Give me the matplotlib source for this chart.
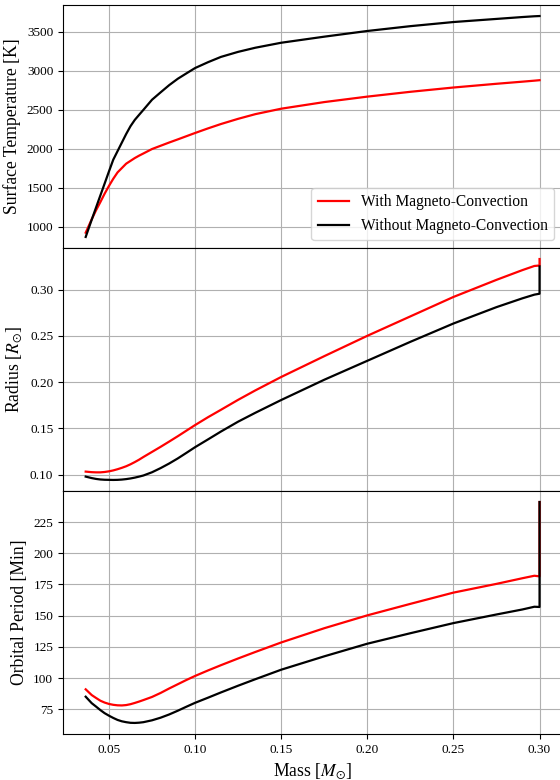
import matplotlib
matplotlib.use("Agg")
import matplotlib.pyplot as plt

plt.rcParams['font.family'] = 'serif'
plt.rcParams['font.serif'] = ['Liberation Serif', 'DejaVu Serif']
plt.rcParams['mathtext.fontset'] = 'stix'

# donor mass [Msun]; the last point is the start of the track (jump at 0.30)
mass = [0.0365, 0.040, 0.0425, 0.045, 0.0475, 0.050, 0.0525, 0.055, 0.0575, 0.060,
        0.0625, 0.065, 0.0675, 0.070, 0.075, 0.080, 0.085, 0.090, 0.095, 0.100,
        0.1075, 0.115, 0.125, 0.135, 0.150, 0.175, 0.200, 0.225, 0.250, 0.275,
        0.290, 0.297, 0.300, 0.300]

# surface temperature [K]
teff_mc = [923, 1095, 1210, 1315, 1424, 1523, 1615, 1697, 1753, 1809,
           1845, 1881, 1912, 1940, 1997, 2039, 2081, 2121, 2162, 2203,
           2262, 2318, 2385, 2445, 2515, 2600, 2670, 2732, 2787, 2835,
           2862, 2875, 2881, 2881]
teff_nomc = [868, 1090, 1245, 1400, 1554, 1709, 1860, 1970, 2080, 2190,
             2290, 2371, 2436, 2500, 2630, 2725, 2818, 2900, 2969, 3037,
             3112, 3180, 3245, 3298, 3362, 3440, 3513, 3575, 3628, 3668,
             3692, 3702, 3705, 3705]

# radius [Rsun]
rad_mc = [0.1032, 0.1026, 0.1024, 0.1024, 0.1028, 0.1035, 0.1045, 0.1058, 0.1073, 0.109,
          0.1111, 0.1135, 0.1161, 0.119, 0.1245, 0.130, 0.1357, 0.1415, 0.1475, 0.1535,
          0.162, 0.170, 0.1808, 0.191, 0.2055, 0.228, 0.250, 0.271, 0.292, 0.3105,
          0.321, 0.3255, 0.326, 0.333]
rad_nomc = [0.0978, 0.0962, 0.0953, 0.0947, 0.0944, 0.0943, 0.0942, 0.0943, 0.0946, 0.0951,
            0.0958, 0.0967, 0.0978, 0.0990, 0.1025, 0.107, 0.112, 0.1175, 0.1235, 0.1296,
            0.138, 0.1465, 0.1572, 0.1668, 0.1806, 0.2025, 0.223, 0.2435, 0.2633, 0.281,
            0.2905, 0.2945, 0.2955, 0.325]

# orbital period [min]
per_mc = [91.1, 86.5, 84.2, 82.0, 80.5, 79.4, 78.7, 78.3, 78.2, 78.5,
          79.2, 80.2, 81.3, 82.5, 85.0, 88.2, 91.8, 95.2, 98.6, 101.8,
          106.2, 110.4, 115.8, 121.0, 128.6, 140.0, 150.3, 159.5, 168.5, 175.5,
          180.0, 182.0, 181.5, 241]
per_nomc = [85.2, 80.0, 77.3, 74.5, 72.0, 70.0, 68.2, 66.6, 65.5, 64.8,
            64.3, 64.2, 64.4, 64.8, 66.3, 68.4, 71.0, 74.0, 77.2, 80.3,
            84.4, 88.6, 94.0, 99.2, 106.8, 117.5, 127.6, 136.0, 144.1, 151.0,
            155.0, 157.2, 157.0, 241]

fig, axs = plt.subplots(3, 1, sharex=True, figsize=(5.6, 7.8), dpi=100)
fig.subplots_adjust(left=0.1125, right=1.004, top=0.9936, bottom=0.059, hspace=0)

series = [(teff_mc, teff_nomc, "Surface Temperature [K]"),
          (rad_mc, rad_nomc, r"Radius [$R_{\odot}$]"),
          (per_mc, per_nomc, "Orbital Period [Min]")]

for ax, (y_mc, y_nomc, lab) in zip(axs, series):
    ax.plot(mass, y_mc, color='red', lw=1.6, label="With Magneto-Convection")
    ax.plot(mass, y_nomc, color='black', lw=1.6, label="Without Magneto-Convection")
    ax.set_ylabel(lab, fontsize=12.7)
    ax.tick_params(labelsize=9.5)
    ax.grid(True)

axs[0].legend(loc='lower right', fontsize=11.2)
axs[2].set_xlabel(r"Mass [$M_{\odot}$]", fontsize=12.7)

fig.savefig("out.png", dpi=100)
